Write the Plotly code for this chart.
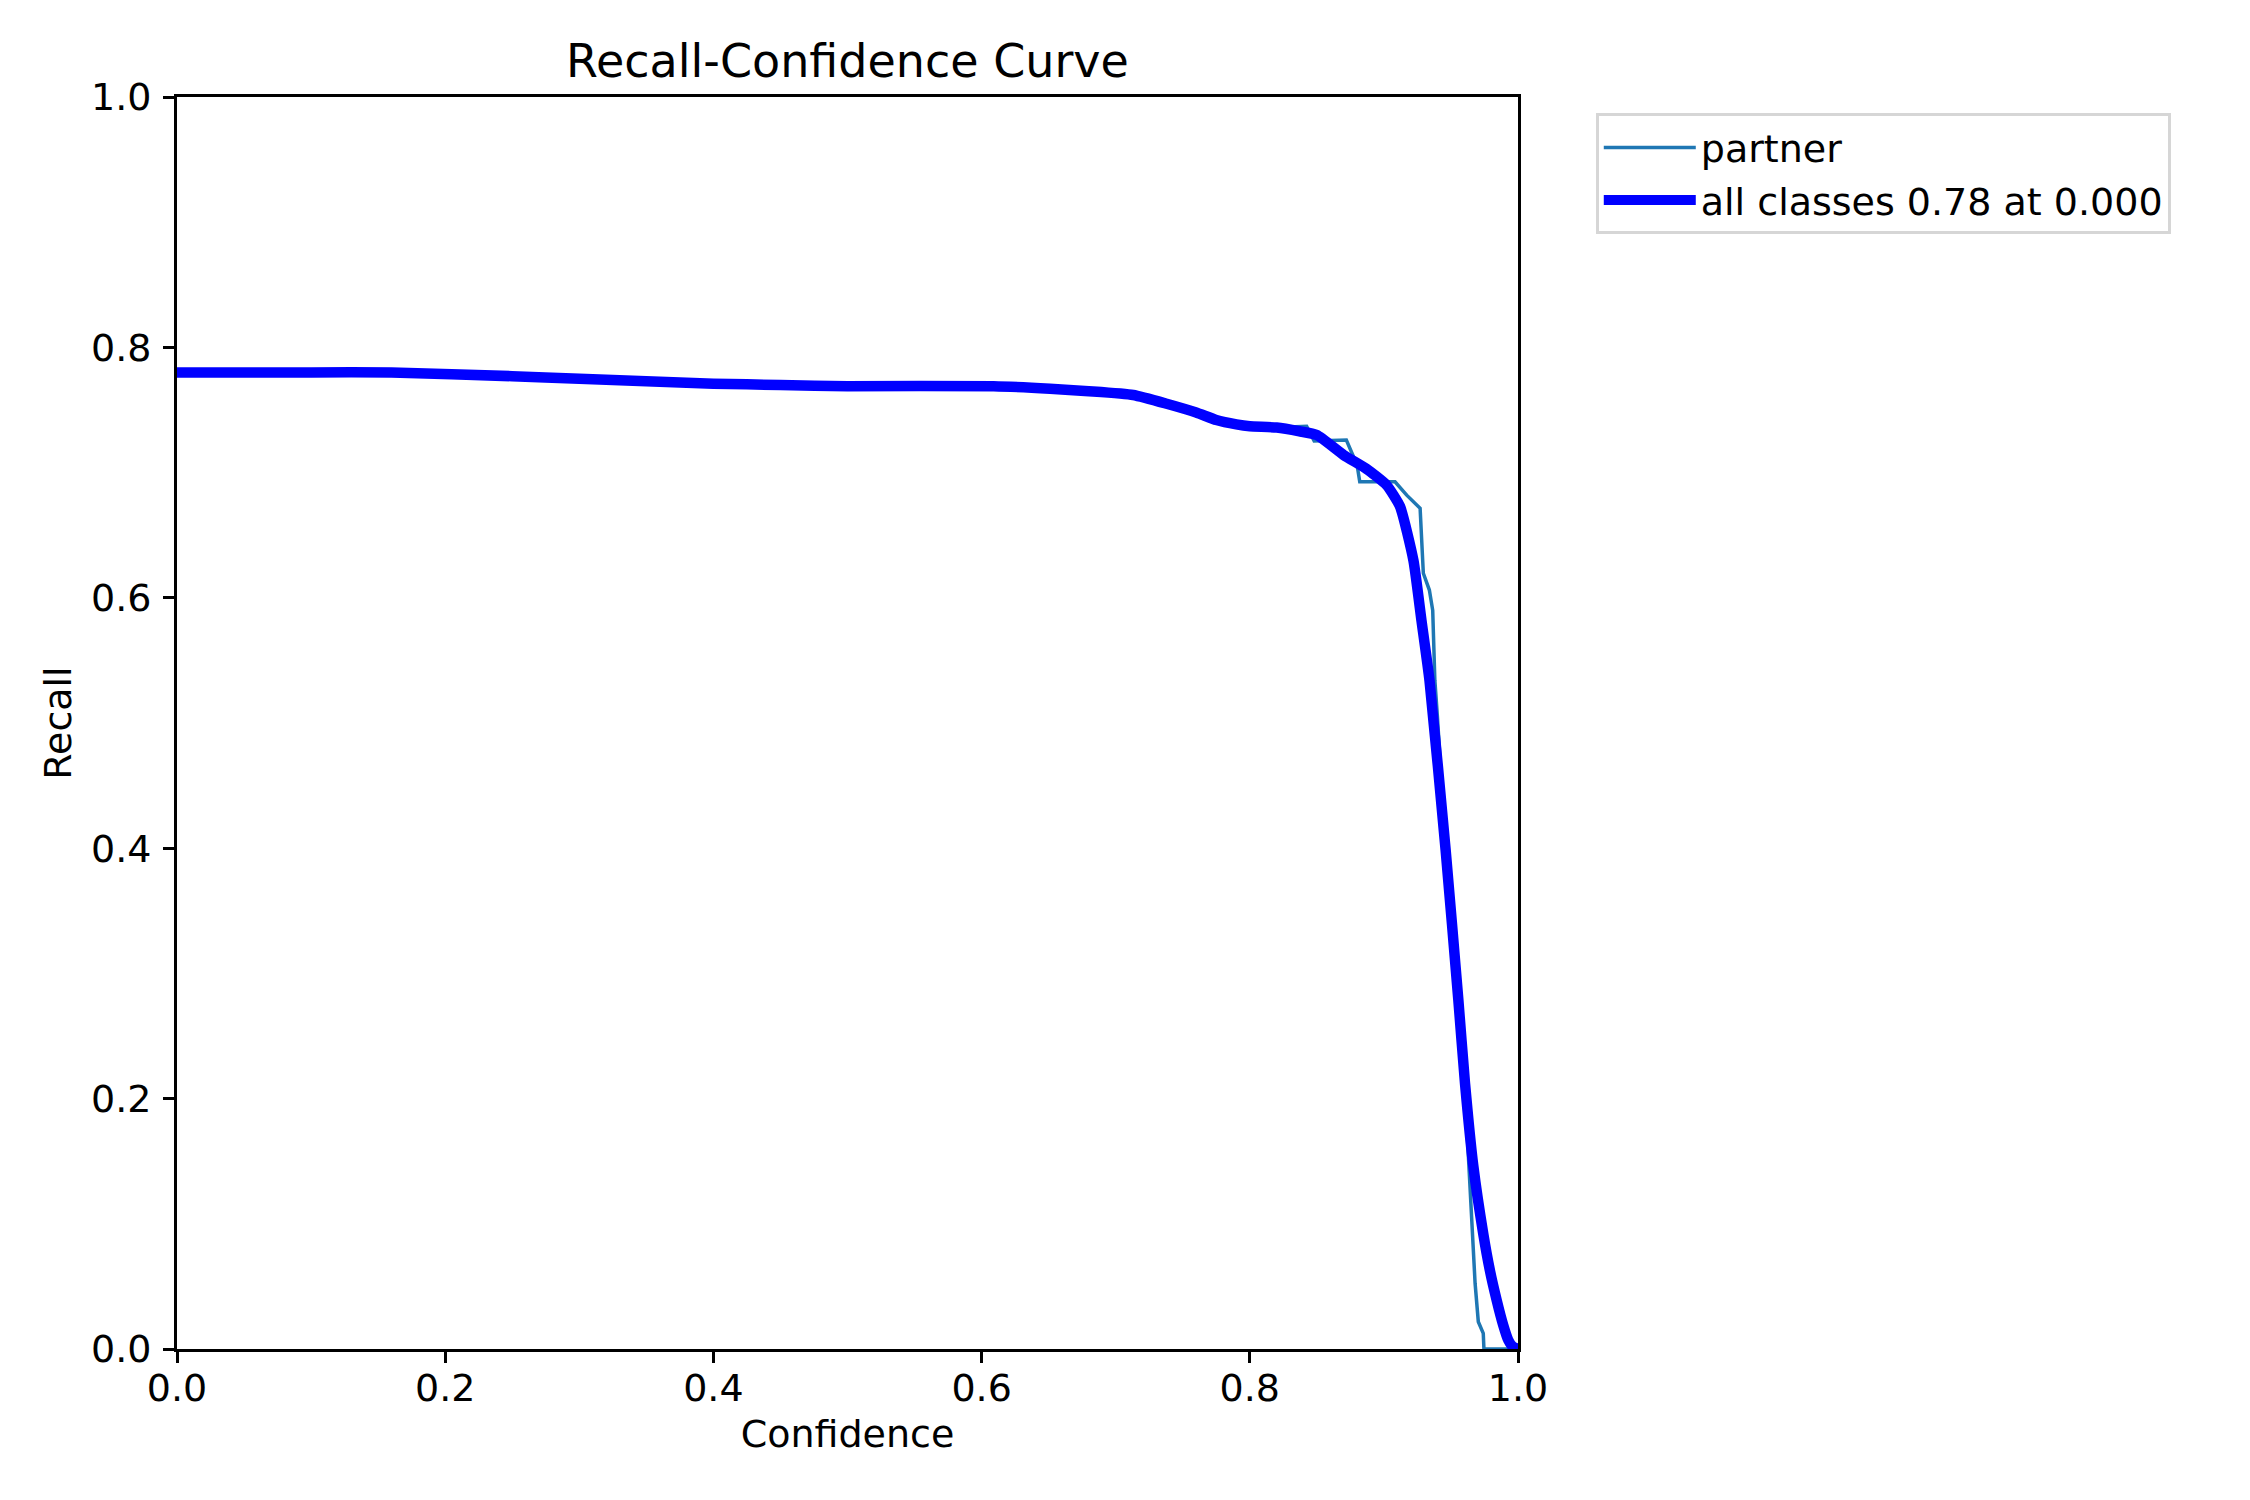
import plotly.graph_objects as go

# ---- data ----
all_x = [0.0, 0.10, 0.16, 0.25, 0.30, 0.35, 0.40, 0.45, 0.50, 0.609, 0.651, 0.68,
         0.713, 0.738, 0.76, 0.775, 0.79, 0.80, 0.82, 0.837, 0.850, 0.870, 0.887,
         0.902, 0.912, 0.922, 0.928, 0.934, 0.946, 0.9555, 0.9605, 0.9667, 0.9741,
         0.979, 0.9841, 0.989, 0.9928, 0.996, 1.0]
all_y = [0.780, 0.780, 0.780, 0.777, 0.775, 0.773, 0.771, 0.770, 0.769, 0.769,
         0.767, 0.765, 0.762, 0.755, 0.748, 0.742, 0.7385, 0.737, 0.736, 0.733,
         0.730, 0.714, 0.703, 0.690, 0.673, 0.630, 0.582, 0.534, 0.399, 0.279,
         0.212, 0.146, 0.092, 0.063, 0.039, 0.019, 0.007, 0.002, 0.0]

partner_x = [0.0, 0.10, 0.16, 0.25, 0.30, 0.35, 0.40, 0.45, 0.50, 0.609, 0.651, 0.68,
             0.713, 0.738, 0.76, 0.775, 0.79, 0.80, 0.82, 0.838, 0.8424, 0.848,
             0.8635, 0.872, 0.880, 0.882, 0.9083, 0.917, 0.927, 0.9294, 0.9339,
             0.9364, 0.938, 0.9399, 0.946, 0.9555, 0.9605, 0.9647, 0.968, 0.9704,
             0.9741, 0.9746, 1.0]
partner_y = [0.780, 0.780, 0.780, 0.777, 0.775, 0.773, 0.771, 0.770, 0.769, 0.769,
             0.767, 0.765, 0.762, 0.755, 0.748, 0.742, 0.7385, 0.737, 0.736, 0.737,
             0.737, 0.7252, 0.726, 0.726, 0.706, 0.6927, 0.6927, 0.682, 0.6715,
             0.6196, 0.6062, 0.590, 0.534, 0.505, 0.400, 0.280, 0.205, 0.119,
             0.0525, 0.0218, 0.0125, 0.0, 0.0]

tick_vals = [0.0, 0.2, 0.4, 0.6, 0.8, 1.0]
tick_text = ["0.0", "0.2", "0.4", "0.6", "0.8", "1.0"]

best_label = "all classes 0.78 at 0.000"

FONT = "DejaVu Sans"
FS = 38

fig = go.Figure()
fig.add_trace(go.Scatter(x=partner_x, y=partner_y, mode="lines", name="partner",
                         line=dict(color="#1f77b4", width=3.5)))
fig.add_trace(go.Scatter(x=all_x, y=all_y, mode="lines", name=best_label,
                         line=dict(color="#0000ff", width=10.5,
                                   shape="spline", smoothing=0.5)))

axis_common = dict(
    range=[0, 1], showgrid=False, zeroline=False,
    showline=True, mirror=True, linecolor="black", linewidth=2.8,
    ticks="outside", ticklen=11, tickwidth=2.8, tickcolor="black",
    tickvals=tick_vals, ticktext=tick_text,
    tickfont=dict(family=FONT, size=FS, color="black"),
)

W, H = 2234, 1484
L, T = 169, 89
PW, PH = 1341, 1252

fig.update_layout(
    width=W, height=H,
    margin=dict(l=L, r=W - L - PW, t=T, b=H - T - PH),
    paper_bgcolor="white", plot_bgcolor="white",
    font=dict(family=FONT, size=FS, color="black"),
    title=dict(text="Recall-Confidence Curve", x=0.5, xref="paper",
               xanchor="center", y=1 - 52.6 / H, yanchor="middle",
               font=dict(family=FONT, size=46, color="black")),
    xaxis=dict(axis_common, ticklabelstandoff=-8,
               title=dict(text="Confidence", standoff=12,
                          font=dict(family=FONT, size=FS))),
    yaxis=dict(axis_common, ticklabelstandoff=4,
               title=dict(text="Recall", standoff=8,
                          font=dict(family=FONT, size=FS))),
    legend=dict(x=1.058, y=0.987, xanchor="left", yanchor="top",
                bgcolor="white", bordercolor="#d6d6d6", borderwidth=3,
                font=dict(family=FONT, size=FS, color="black"),
                itemwidth=92, tracegroupgap=0),
    showlegend=True,
)

fig.write_html("out.html")
